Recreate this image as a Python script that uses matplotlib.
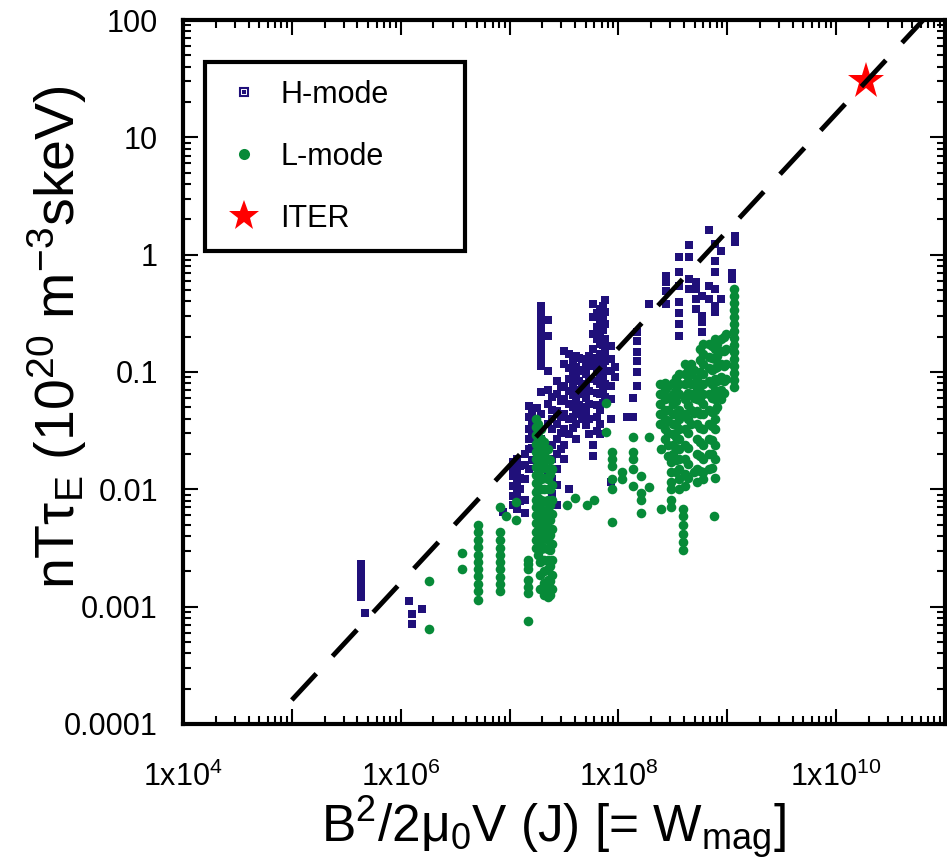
import numpy as np
import matplotlib
matplotlib.use("Agg")
import matplotlib.pyplot as plt
from matplotlib.lines import Line2D
from matplotlib.legend_handler import HandlerTuple
from matplotlib.ticker import FixedLocator, LogLocator, NullFormatter, FuncFormatter

plt.rcParams['font.family'] = ['Liberation Sans', 'DejaVu Sans']
plt.rcParams['mathtext.fontset'] = 'custom'
plt.rcParams['mathtext.rm'] = 'Liberation Sans'
plt.rcParams['mathtext.it'] = 'Liberation Sans:italic'

H_COLOR = '#20107a'
L_COLOR = '#078a38'

# values, log10(W_mag [J]) per column, log10(nT tau_E) per point
# H-mode
h_small_logw = [5.64, 5.67, 6.08, 6.20, 6.10]
h_small_logy = [[-2.64, -2.68, -2.73, -2.77, -2.81, -2.85, -2.92], [-3.05],
                [-2.95], [-3.02], [-3.06, -3.15]]

h_mid_logw = [6.94, 7.03, 7.07, 7.10, 7.14, 7.18, 7.21, 7.25, 7.29, 7.35, 7.39, 7.44,
              7.47, 7.50, 7.55, 7.58, 7.61, 7.64, 7.67, 7.70, 7.73, 7.77, 7.80, 7.83,
              7.86, 7.88, 7.93, 7.97, 8.08, 8.13, 8.17]
h_mid_logy = [
    [-2.19],
    [-1.77, -1.83, -1.89, -1.97, -2.06, -2.13],
    [-1.74, -1.85, -1.94, -2.03, -2.17],
    [-1.80, -1.90, -2.00, -2.10],
    [-1.70, -1.79, -1.91, -2.09, -2.20],
    [-1.29, -1.38, -1.49, -1.57, -1.66, -1.83],
    [-1.35, -1.45, -1.55, -1.65, -1.75],
    [-1.31, -1.40, -1.51, -1.62, -1.70],
    [-0.44, -0.49, -0.55, -0.61, -0.66, -0.72, -0.78, -0.83, -0.89, -0.95, -1.17, -1.36, -1.57],
    [-0.56, -0.69, -0.99, -1.15, -1.27, -1.44, -1.66, -1.87],
    [-1.21, -1.32, -1.40, -1.49, -1.62, -1.74, -1.91, -2.04],
    [-1.08, -1.19, -1.33, -1.44, -1.57, -1.70, -1.83, -1.96, -2.13],
    [-1.12, -1.25, -1.38, -1.52, -1.66],
    [-0.82, -0.93, -1.13, -1.23, -1.36, -1.49, -1.62, -1.74],
    [-0.85, -0.97, -1.06, -1.16, -1.27, -1.40, -1.53, -2.00],
    [-0.90, -1.00, -1.10, -1.20, -1.30, -1.38, -1.48],
    [-0.86, -0.96, -1.04, -1.15, -1.25, -1.33, -1.44, -1.57],
    [-0.88, -0.98, -1.08, -1.18, -1.28, -1.36],
    [-0.89, -0.99, -1.10, -1.19, -1.30, -1.40],
    [-0.92, -1.02, -1.12, -1.22, -1.33, -1.45],
    [-0.86, -0.95, -1.06, -1.16, -1.27, -1.40, -1.53],
    [-0.42, -0.53, -0.68, -0.80, -0.93, -1.62, -1.72],
    [-0.50, -0.62, -0.72, -0.88, -0.98, -1.08, -1.18, -1.28, -1.38, -1.50],
    [-0.46, -0.56, -0.68, -0.76, -0.85, -0.93, -1.02, -1.10, -1.19, -1.32, -1.44, -1.53],
    [-0.44, -0.54, -0.64, -0.77, -0.87, -0.96, -1.05, -1.15, -1.26],
    [-0.39, -0.49, -0.59, -0.72, -0.82, -0.91, -0.99, -1.10, -1.21],
    [-0.78, -0.89, -0.99, -1.12, -1.23, -1.40, -1.94],
    [-0.96, -1.04],
    [-1.38],
    [-1.38, -1.22],
    [-0.66, -0.74, -0.83, -0.91, -1.00, -1.12],
]

h_big_logw = [8.28, 8.44, 8.56, 8.65, 8.71, 8.77, 8.83, 8.89, 8.94, 9.04, 9.07]
h_big_logy = [
    [-0.42],
    [-0.18, -0.23, -0.31, -0.42],
    [-0.02, -0.15, -0.27, -0.40, -0.50, -0.59, -0.69],
    [0.08, -0.02, -0.21, -0.29],
    [-0.23, -0.29, -0.38, -0.46],
    [-0.35, -0.52, -0.57, -0.66],
    [0.21, -0.27, -0.38],
    [0.09, -0.05, -0.15, -0.29, -0.44, -0.49],
    [0.03, -0.38],
    [-0.16, -0.21],
    [0.16, 0.11],
]

# L-mode
l_small_logw = [6.26, 6.56, 6.71, 6.91, 6.97, 7.06, 7.17, 7.28]
l_small_logy = [
    [-2.78, -3.19],
    [-2.54, -2.68],
    [-2.30, -2.36, -2.43, -2.49, -2.56, -2.62, -2.68, -2.74, -2.81, -2.87, -2.94],
    [-2.15, -2.36, -2.43, -2.50, -2.56, -2.62, -2.68, -2.75, -2.81, -2.87],
    [-2.23],
    [-2.26, -2.11],
    [-2.60, -2.64, -2.68, -2.77, -2.83, -2.88, -3.12],
    [-2.62, -2.73, -2.85],
]

l_mid_logw = [7.24, 7.26, 7.29, 7.32, 7.35, 7.37, 7.39, 7.53, 7.60, 7.71, 7.78, 7.89,
              7.94, 8.03, 8.13, 8.21, 8.28, 8.39, 8.48, 8.59, 8.88]
l_mid_logy = [
    [-1.40, -1.47, -1.54, -1.61, -1.68, -1.74, -1.81, -1.88, -1.95, -2.02, -2.09,
     -2.15, -2.22, -2.29, -2.36, -2.43, -2.50],
    [-1.44, -1.51, -1.58, -1.65, -1.72, -1.79, -1.86, -1.93, -2.00, -2.07, -2.14,
     -2.21, -2.28, -2.35, -2.42, -2.49, -2.56],
    [-1.49, -1.57, -1.66, -1.74, -1.83, -1.91, -2.00, -2.09, -2.17, -2.26, -2.34,
     -2.43, -2.51, -2.60],
    [-1.60, -1.70, -1.80, -1.90, -2.00, -2.10, -2.20, -2.30, -2.40, -2.50, -2.60,
     -2.70, -2.80, -2.90],
    [-1.66, -1.74, -1.83, -1.91, -2.00, -2.09, -2.17, -2.26, -2.34, -2.43, -2.51,
     -2.60, -2.68, -2.77, -2.85, -2.92],
    [-1.75, -1.87, -2.00, -2.13, -2.26, -2.39, -2.52, -2.65, -2.78, -2.90],
    [-1.83, -1.96, -2.09, -2.21, -2.34, -2.47, -2.60, -2.73, -2.85],
    [-2.13], [-2.07], [-2.13], [-2.09],
    [-1.26, -1.51],
    [-1.68, -1.74, -1.80, -1.91, -2.00, -2.28],
    [-1.85, -1.91],
    [-1.55, -1.68, -1.74, -1.83, -1.97],
    [-1.89, -2.03, -2.09, -2.20],
    [-1.55, -1.98],
    [-1.66, -2.17],
    [-1.77, -1.85, -1.94, -2.00, -2.09, -2.15],
    [-2.17, -2.23, -2.30, -2.38, -2.45, -2.52],
    [-2.23],
]

l_big_logw = [8.38, 8.43, 8.46, 8.50, 8.53, 8.56, 8.61, 8.64, 8.67, 8.69, 8.72, 8.75,
              8.78, 8.83, 8.86, 8.89, 8.91, 8.94, 8.97, 8.99, 9.06]
l_big_logy = [
    [-1.10, -1.19, -1.27, -1.36, -1.44],
    [-1.09, -1.15, -1.23, -1.32, -1.40, -1.49, -1.57],
    [-1.12, -1.22, -1.32, -1.42, -1.52, -1.62, -1.72],
    [-1.09, -1.19, -1.27, -1.36, -1.44, -1.53, -1.62, -1.70],
    [-1.05, -1.15, -1.25, -1.35, -1.45, -1.55, -1.65, -1.75, -1.85],
    [-1.02, -1.10, -1.19, -1.32, -1.40, -1.49, -1.57, -1.66, -1.74, -1.83, -1.91, -2.00],
    [-0.93, -1.02, -1.10, -1.23, -1.36, -1.49, -1.62, -1.74, -1.87, -1.97],
    [-0.98, -1.08, -1.18, -1.28, -1.40, -1.52, -1.65, -1.78, -1.90],
    [-0.93, -1.02, -1.10, -1.19, -1.32, -1.44],
    [-0.98, -1.10, -1.22, -1.35, -1.85],
    [-1.06, -1.15, -1.23, -1.33, -1.44, -1.57, -1.70, -1.83, -1.94],
    [-0.80, -0.90, -1.00, -1.12, -1.24, -1.36, -1.48, -1.60, -1.72, -1.84],
    [-0.76, -0.85, -0.93, -1.02, -1.10, -1.19, -1.27, -1.36, -1.49, -1.62, -1.74, -1.85, -1.91],
    [-0.76, -0.87, -0.97, -1.08, -1.19, -1.32, -1.44, -1.57, -1.70, -1.83],
    [-0.78, -0.88, -0.98, -1.10, -1.22, -1.34, -1.46, -1.58, -1.70, -1.82],
    [-0.72, -0.80, -0.89, -0.97, -1.06, -1.15, -1.23, -1.32, -1.40, -1.49, -1.62, -1.74, -1.90],
    [-0.76, -0.86, -0.96, -1.08, -1.20, -1.30],
    [-0.72, -0.82, -0.93, -1.04, -1.15, -1.23],
    [-0.70, -0.82, -0.95, -1.08, -1.18],
    [-0.68, -0.80, -0.93, -1.06],
    [-0.29, -0.35, -0.41, -0.47, -0.53, -0.59, -0.65, -0.71, -0.77, -0.83, -0.89,
     -0.95, -1.01, -1.07, -1.13],
]

iter_w = [1.9e10]
iter_ntt = [30.0]

# dashed scaling line, end points
fit_w = [1.0e5, 6.3e10]
fit_ntt = [1.6e-4, 100.0]


def expand(cols, vals):
    xs, ys = [], []
    for c, v in zip(cols, vals):
        xs += [c] * len(v)
        ys += v
    return 10 ** np.array(xs), 10 ** np.array(ys)


hx, hy = expand(h_small_logw + h_mid_logw + h_big_logw,
                h_small_logy + h_mid_logy + h_big_logy)
lx, ly = expand(l_small_logw + l_mid_logw + l_big_logw,
                l_small_logy + l_mid_logy + l_big_logy)

fig = plt.figure(figsize=(9.47, 8.63), dpi=100)
ax = fig.add_axes([0.1932, 0.1611, 0.8047, 0.8157])

ax.scatter(hx, hy, s=26, marker='s', color=H_COLOR, linewidths=0, zorder=2)
ax.scatter(lx, ly, s=48, marker='o', color=L_COLOR, linewidths=0, zorder=3)
ax.plot(iter_w, iter_ntt, ls='none', marker='*', ms=28, color='red', mew=0, zorder=4)
ax.plot(fit_w, fit_ntt, color='black', lw=3.5, dashes=(7.4, 4.9), dash_capstyle='butt', zorder=5)

ax.set_xscale('log')
ax.set_yscale('log')
ax.set_xlim(1e4, 1e11)
ax.set_ylim(1e-4, 100)

ax.xaxis.set_major_locator(FixedLocator([10.0 ** k for k in range(4, 12)]))
ax.xaxis.set_major_formatter(FuncFormatter(
    lambda v, p: '1x10$^{\\mathregular{%d}}$' % round(np.log10(v)) if round(np.log10(v)) % 2 == 0 and v < 5e10 else ''))
ax.xaxis.set_minor_locator(LogLocator(base=10, subs=np.arange(2, 10), numticks=30))
ax.xaxis.set_minor_formatter(NullFormatter())

y_ticks = [1e-4, 1e-3, 1e-2, 0.1, 1, 10, 100]
y_ticklabels = ['0.0001', '0.001', '0.01', '0.1', '1', '10', '100']
ax.yaxis.set_major_locator(FixedLocator(y_ticks))
ax.set_yticklabels(y_ticklabels)
ax.yaxis.set_minor_locator(LogLocator(base=10, subs=np.arange(2, 10), numticks=30))
ax.yaxis.set_minor_formatter(NullFormatter())

for sp in ax.spines.values():
    sp.set_linewidth(3)
ax.tick_params(which='both', direction='in', top=True, right=True, width=1.5, colors='black')
ax.tick_params(which='major', length=11, labelsize=22)
ax.tick_params(which='minor', length=6)
ax.tick_params(axis='y', which='major', pad=18)
ax.tick_params(axis='x', which='major', pad=27)

ax.set_xlabel('B$^{\\mathregular{2}}$/2\u03bc$_{\\mathregular{0}}$V (J) [= W$_{\\mathregular{mag}}$]',
              fontsize=37)
ax.xaxis.set_label_coords(0.486, -0.1)
ax.set_ylabel('nT\u03c4$_{\\mathregular{E}}$ (10$^{\\mathregular{20}}$ m$^{\\mathregular{-3}}$skeV)',
              fontsize=40, va='center')
ax.yaxis.set_label_coords(-0.165, 0.55)

h_handle = (Line2D([], [], ls='none', marker='s', ms=6, mfc='white', mec=H_COLOR, mew=1.5),
            Line2D([], [], ls='none', marker='s', ms=2.2, mfc=H_COLOR, mec=H_COLOR, mew=0))
l_handle = Line2D([], [], ls='none', marker='o', ms=8, color=L_COLOR, mew=0)
s_handle = Line2D([], [], ls='none', marker='*', ms=23, color='red', mew=0)

leg = ax.legend([h_handle, l_handle, s_handle], ['H-mode', 'L-mode', 'ITER'],
                loc='upper left', bbox_to_anchor=(0.029, 0.676, 0.341, 0.264),
                mode='expand', borderaxespad=0, fontsize=22,
                handler_map={tuple: HandlerTuple(ndivide=1, pad=0)},
                frameon=True, fancybox=False, edgecolor='black', framealpha=1,
                borderpad=0.57, labelspacing=1.05, handlelength=1.4, handletextpad=0.5)
leg.get_frame().set_linewidth(3)

fig.savefig('out.png', dpi=100)
